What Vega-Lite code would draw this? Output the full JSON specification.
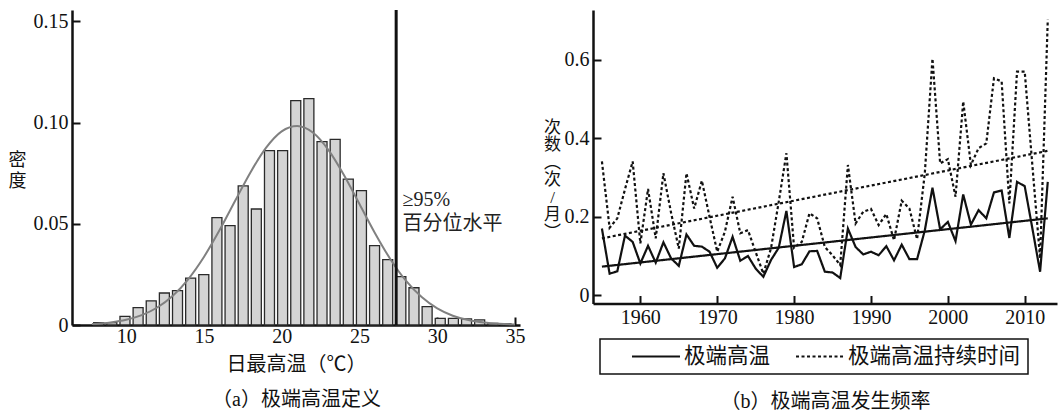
{
  "$schema": "https://vega.github.io/schema/vega-lite/v6.json",
  "padding": {"left": 8, "top": 8, "right": 4, "bottom": 0},
  "background": "white",
  "bounds": "flush",
  "spacing": 73,
  "config": {
    "font": "Liberation Serif, Noto Sans CJK SC",
    "view": {"stroke": null},
    "axis": {
      "domainColor": "#111", "domainWidth": 2.5, "tickColor": "#111", "tickWidth": 2, "tickSize": -8,
      "labelFont": "Liberation Serif, Noto Sans CJK SC", "labelFontSize": 20, "labelColor": "#111",
      "grid": false, "titleFont": "Liberation Serif, Noto Sans CJK SC", "titleFontSize": 20,
      "titleFontWeight": "normal", "titleColor": "#111", "labelPadding": 12
    },
    "legend": {"strokeWidth": 1.5}
  },
  "datasets": {
    "hist": [
      {"t": 8.235, "d": 0.0012}, {"t": 9.079, "d": 0.0012}, {"t": 9.924, "d": 0.0043}, {"t": 10.769, "d": 0.0086},
      {"t": 11.613, "d": 0.0119}, {"t": 12.458, "d": 0.0158}, {"t": 13.302, "d": 0.017}, {"t": 14.147, "d": 0.0232},
      {"t": 14.992, "d": 0.0249}, {"t": 15.836, "d": 0.053}, {"t": 16.681, "d": 0.0491}, {"t": 17.525, "d": 0.0687},
      {"t": 18.37, "d": 0.0573}, {"t": 19.215, "d": 0.0861}, {"t": 20.059, "d": 0.0861}, {"t": 20.904, "d": 0.1108},
      {"t": 21.748, "d": 0.1118}, {"t": 22.593, "d": 0.0906}, {"t": 23.438, "d": 0.0917}, {"t": 24.282, "d": 0.0721},
      {"t": 25.127, "d": 0.0664}, {"t": 25.971, "d": 0.0392}, {"t": 26.816, "d": 0.0323}, {"t": 27.661, "d": 0.0239},
      {"t": 28.505, "d": 0.0184}, {"t": 29.35, "d": 0.0091}, {"t": 30.194, "d": 0.0033}, {"t": 31.039, "d": 0.0033},
      {"t": 31.884, "d": 0.003}, {"t": 32.728, "d": 0.0025}, {"t": 33.573, "d": 0.0008}, {"t": 34.417, "d": 0.0006}
    ],
    "curve": [
      {"t": 7.8, "d": 0.00052}, {"t": 9, "d": 0.00129}, {"t": 10, "d": 0.00259}, {"t": 11, "d": 0.00488},
      {"t": 12, "d": 0.00865}, {"t": 13, "d": 0.01446}, {"t": 14, "d": 0.02272}, {"t": 15, "d": 0.03359},
      {"t": 16, "d": 0.04675}, {"t": 17, "d": 0.06124}, {"t": 18, "d": 0.0755}, {"t": 19, "d": 0.0876},
      {"t": 20, "d": 0.09565}, {"t": 21, "d": 0.0983}, {"t": 22, "d": 0.09507}, {"t": 23, "d": 0.08654},
      {"t": 24, "d": 0.07414}, {"t": 25, "d": 0.05978}, {"t": 26, "d": 0.04536}, {"t": 27, "d": 0.03239},
      {"t": 28, "d": 0.02177}, {"t": 29, "d": 0.01377}, {"t": 30, "d": 0.0082}, {"t": 31, "d": 0.00459},
      {"t": 32, "d": 0.00242}, {"t": 33, "d": 0.0012}, {"t": 34, "d": 0.00056}, {"t": 35, "d": 0.00025}
    ],
    "vline": [{"t": 27.36}],
    "annot": [
      {"t": 27.77, "d": 0.0617, "label": "≥95%"},
      {"t": 27.77, "d": 0.0499, "label": "百分位水平"}
    ],
    "series": [
      {"year": 1955, "value": 0.170, "series": "极端高温", "kind": "obs"},
      {"year": 1956, "value": 0.055, "series": "极端高温", "kind": "obs"},
      {"year": 1957, "value": 0.061, "series": "极端高温", "kind": "obs"},
      {"year": 1958, "value": 0.152, "series": "极端高温", "kind": "obs"},
      {"year": 1959, "value": 0.136, "series": "极端高温", "kind": "obs"},
      {"year": 1960, "value": 0.081, "series": "极端高温", "kind": "obs"},
      {"year": 1961, "value": 0.126, "series": "极端高温", "kind": "obs"},
      {"year": 1962, "value": 0.083, "series": "极端高温", "kind": "obs"},
      {"year": 1963, "value": 0.135, "series": "极端高温", "kind": "obs"},
      {"year": 1964, "value": 0.094, "series": "极端高温", "kind": "obs"},
      {"year": 1965, "value": 0.075, "series": "极端高温", "kind": "obs"},
      {"year": 1966, "value": 0.155, "series": "极端高温", "kind": "obs"},
      {"year": 1967, "value": 0.126, "series": "极端高温", "kind": "obs"},
      {"year": 1968, "value": 0.124, "series": "极端高温", "kind": "obs"},
      {"year": 1969, "value": 0.111, "series": "极端高温", "kind": "obs"},
      {"year": 1970, "value": 0.070, "series": "极端高温", "kind": "obs"},
      {"year": 1971, "value": 0.094, "series": "极端高温", "kind": "obs"},
      {"year": 1972, "value": 0.149, "series": "极端高温", "kind": "obs"},
      {"year": 1973, "value": 0.088, "series": "极端高温", "kind": "obs"},
      {"year": 1974, "value": 0.100, "series": "极端高温", "kind": "obs"},
      {"year": 1975, "value": 0.068, "series": "极端高温", "kind": "obs"},
      {"year": 1976, "value": 0.047, "series": "极端高温", "kind": "obs"},
      {"year": 1977, "value": 0.090, "series": "极端高温", "kind": "obs"},
      {"year": 1978, "value": 0.121, "series": "极端高温", "kind": "obs"},
      {"year": 1979, "value": 0.215, "series": "极端高温", "kind": "obs"},
      {"year": 1980, "value": 0.072, "series": "极端高温", "kind": "obs"},
      {"year": 1981, "value": 0.079, "series": "极端高温", "kind": "obs"},
      {"year": 1982, "value": 0.112, "series": "极端高温", "kind": "obs"},
      {"year": 1983, "value": 0.113, "series": "极端高温", "kind": "obs"},
      {"year": 1984, "value": 0.060, "series": "极端高温", "kind": "obs"},
      {"year": 1985, "value": 0.058, "series": "极端高温", "kind": "obs"},
      {"year": 1986, "value": 0.044, "series": "极端高温", "kind": "obs"},
      {"year": 1987, "value": 0.170, "series": "极端高温", "kind": "obs"},
      {"year": 1988, "value": 0.123, "series": "极端高温", "kind": "obs"},
      {"year": 1989, "value": 0.104, "series": "极端高温", "kind": "obs"},
      {"year": 1990, "value": 0.111, "series": "极端高温", "kind": "obs"},
      {"year": 1991, "value": 0.102, "series": "极端高温", "kind": "obs"},
      {"year": 1992, "value": 0.125, "series": "极端高温", "kind": "obs"},
      {"year": 1993, "value": 0.089, "series": "极端高温", "kind": "obs"},
      {"year": 1994, "value": 0.129, "series": "极端高温", "kind": "obs"},
      {"year": 1995, "value": 0.092, "series": "极端高温", "kind": "obs"},
      {"year": 1996, "value": 0.092, "series": "极端高温", "kind": "obs"},
      {"year": 1997, "value": 0.165, "series": "极端高温", "kind": "obs"},
      {"year": 1998, "value": 0.274, "series": "极端高温", "kind": "obs"},
      {"year": 1999, "value": 0.168, "series": "极端高温", "kind": "obs"},
      {"year": 2000, "value": 0.187, "series": "极端高温", "kind": "obs"},
      {"year": 2001, "value": 0.138, "series": "极端高温", "kind": "obs"},
      {"year": 2002, "value": 0.257, "series": "极端高温", "kind": "obs"},
      {"year": 2003, "value": 0.180, "series": "极端高温", "kind": "obs"},
      {"year": 2004, "value": 0.217, "series": "极端高温", "kind": "obs"},
      {"year": 2005, "value": 0.196, "series": "极端高温", "kind": "obs"},
      {"year": 2006, "value": 0.262, "series": "极端高温", "kind": "obs"},
      {"year": 2007, "value": 0.267, "series": "极端高温", "kind": "obs"},
      {"year": 2008, "value": 0.146, "series": "极端高温", "kind": "obs"},
      {"year": 2009, "value": 0.289, "series": "极端高温", "kind": "obs"},
      {"year": 2010, "value": 0.278, "series": "极端高温", "kind": "obs"},
      {"year": 2011, "value": 0.170, "series": "极端高温", "kind": "obs"},
      {"year": 2012, "value": 0.060, "series": "极端高温", "kind": "obs"},
      {"year": 2013, "value": 0.289, "series": "极端高温", "kind": "obs"},
      {"year": 1955, "value": 0.341, "series": "极端高温持续时间", "kind": "obs"},
      {"year": 1956, "value": 0.172, "series": "极端高温持续时间", "kind": "obs"},
      {"year": 1957, "value": 0.196, "series": "极端高温持续时间", "kind": "obs"},
      {"year": 1958, "value": 0.270, "series": "极端高温持续时间", "kind": "obs"},
      {"year": 1959, "value": 0.341, "series": "极端高温持续时间", "kind": "obs"},
      {"year": 1960, "value": 0.132, "series": "极端高温持续时间", "kind": "obs"},
      {"year": 1961, "value": 0.271, "series": "极端高温持续时间", "kind": "obs"},
      {"year": 1962, "value": 0.145, "series": "极端高温持续时间", "kind": "obs"},
      {"year": 1963, "value": 0.311, "series": "极端高温持续时间", "kind": "obs"},
      {"year": 1964, "value": 0.210, "series": "极端高温持续时间", "kind": "obs"},
      {"year": 1965, "value": 0.119, "series": "极端高温持续时间", "kind": "obs"},
      {"year": 1966, "value": 0.311, "series": "极端高温持续时间", "kind": "obs"},
      {"year": 1967, "value": 0.221, "series": "极端高温持续时间", "kind": "obs"},
      {"year": 1968, "value": 0.292, "series": "极端高温持续时间", "kind": "obs"},
      {"year": 1969, "value": 0.200, "series": "极端高温持续时间", "kind": "obs"},
      {"year": 1970, "value": 0.111, "series": "极端高温持续时间", "kind": "obs"},
      {"year": 1971, "value": 0.162, "series": "极端高温持续时间", "kind": "obs"},
      {"year": 1972, "value": 0.251, "series": "极端高温持续时间", "kind": "obs"},
      {"year": 1973, "value": 0.158, "series": "极端高温持续时间", "kind": "obs"},
      {"year": 1974, "value": 0.166, "series": "极端高温持续时间", "kind": "obs"},
      {"year": 1975, "value": 0.110, "series": "极端高温持续时间", "kind": "obs"},
      {"year": 1976, "value": 0.055, "series": "极端高温持续时间", "kind": "obs"},
      {"year": 1977, "value": 0.120, "series": "极端高温持续时间", "kind": "obs"},
      {"year": 1978, "value": 0.238, "series": "极端高温持续时间", "kind": "obs"},
      {"year": 1979, "value": 0.362, "series": "极端高温持续时间", "kind": "obs"},
      {"year": 1980, "value": 0.121, "series": "极端高温持续时间", "kind": "obs"},
      {"year": 1981, "value": 0.136, "series": "极端高温持续时间", "kind": "obs"},
      {"year": 1982, "value": 0.209, "series": "极端高温持续时间", "kind": "obs"},
      {"year": 1983, "value": 0.196, "series": "极端高温持续时间", "kind": "obs"},
      {"year": 1984, "value": 0.123, "series": "极端高温持续时间", "kind": "obs"},
      {"year": 1985, "value": 0.102, "series": "极端高温持续时间", "kind": "obs"},
      {"year": 1986, "value": 0.077, "series": "极端高温持续时间", "kind": "obs"},
      {"year": 1987, "value": 0.332, "series": "极端高温持续时间", "kind": "obs"},
      {"year": 1988, "value": 0.183, "series": "极端高温持续时间", "kind": "obs"},
      {"year": 1989, "value": 0.213, "series": "极端高温持续时间", "kind": "obs"},
      {"year": 1990, "value": 0.220, "series": "极端高温持续时间", "kind": "obs"},
      {"year": 1991, "value": 0.179, "series": "极端高温持续时间", "kind": "obs"},
      {"year": 1992, "value": 0.207, "series": "极端高温持续时间", "kind": "obs"},
      {"year": 1993, "value": 0.140, "series": "极端高温持续时间", "kind": "obs"},
      {"year": 1994, "value": 0.241, "series": "极端高温持续时间", "kind": "obs"},
      {"year": 1995, "value": 0.221, "series": "极端高温持续时间", "kind": "obs"},
      {"year": 1996, "value": 0.143, "series": "极端高温持续时间", "kind": "obs"},
      {"year": 1997, "value": 0.310, "series": "极端高温持续时间", "kind": "obs"},
      {"year": 1998, "value": 0.603, "series": "极端高温持续时间", "kind": "obs"},
      {"year": 1999, "value": 0.336, "series": "极端高温持续时间", "kind": "obs"},
      {"year": 2000, "value": 0.347, "series": "极端高温持续时间", "kind": "obs"},
      {"year": 2001, "value": 0.251, "series": "极端高温持续时间", "kind": "obs"},
      {"year": 2002, "value": 0.494, "series": "极端高温持续时间", "kind": "obs"},
      {"year": 2003, "value": 0.332, "series": "极端高温持续时间", "kind": "obs"},
      {"year": 2004, "value": 0.375, "series": "极端高温持续时间", "kind": "obs"},
      {"year": 2005, "value": 0.387, "series": "极端高温持续时间", "kind": "obs"},
      {"year": 2006, "value": 0.553, "series": "极端高温持续时间", "kind": "obs"},
      {"year": 2007, "value": 0.545, "series": "极端高温持续时间", "kind": "obs"},
      {"year": 2008, "value": 0.234, "series": "极端高温持续时间", "kind": "obs"},
      {"year": 2009, "value": 0.570, "series": "极端高温持续时间", "kind": "obs"},
      {"year": 2010, "value": 0.570, "series": "极端高温持续时间", "kind": "obs"},
      {"year": 2011, "value": 0.330, "series": "极端高温持续时间", "kind": "obs"},
      {"year": 2012, "value": 0.094, "series": "极端高温持续时间", "kind": "obs"},
      {"year": 2013, "value": 0.702, "series": "极端高温持续时间", "kind": "obs"},
      {"year": 1955, "value": 0.073, "series": "极端高温", "kind": "trend"},
      {"year": 2013, "value": 0.196, "series": "极端高温", "kind": "trend"},
      {"year": 1955, "value": 0.145, "series": "极端高温持续时间", "kind": "trend"},
      {"year": 2013, "value": 0.368, "series": "极端高温持续时间", "kind": "trend"}
    ]
  },
  "hconcat": [
    {
      "width": 448,
      "height": 315,
      "layer": [
        {
          "data": {"name": "hist"},
          "mark": {"type": "bar", "width": 10, "fill": "#d4d4d4", "stroke": "#2a2a2a", "strokeWidth": 1.3},
          "encoding": {
            "x": {
              "field": "t", "type": "quantitative",
              "scale": {"domain": [6.84, 35], "nice": false, "zero": false},
              "axis": {
                "values": [10, 15, 20, 25, 30, 35], "labelPadding": 9,
                "title": ["日最高温（℃）", "（a）极端高温定义"],
                "titleLineHeight": 35, "titleBaseline": "middle", "titleY": 39
              }
            },
            "y": {
              "field": "d", "type": "quantitative",
              "scale": {"domain": [0, 0.1556], "nice": false},
              "axis": {
                "values": [0, 0.05, 0.1, 0.15],
                "labelExpr": "datum.value == 0 ? '0' : format(datum.value, '.2f')",
                "title": ["密", "度"], "titleAngle": 0, "titleX": -55, "titleY": 150,
                "titleAlign": "center", "titleBaseline": "middle", "titleLineHeight": 21, "titleFontSize": 18
              }
            }
          }
        },
        {
          "data": {"name": "curve"},
          "mark": {"type": "line", "color": "#808080", "strokeWidth": 2, "interpolate": "monotone"},
          "encoding": {
            "x": {"field": "t", "type": "quantitative"},
            "y": {"field": "d", "type": "quantitative"}
          }
        },
        {
          "data": {"name": "vline"},
          "mark": {"type": "rule", "color": "#111", "strokeWidth": 3},
          "encoding": {"x": {"field": "t", "type": "quantitative"}}
        },
        {
          "data": {"name": "annot"},
          "mark": {"type": "text", "align": "left", "baseline": "middle", "fontSize": 20, "color": "#222", "font": "Liberation Serif, Noto Sans CJK SC"},
          "encoding": {
            "x": {"field": "t", "type": "quantitative"},
            "y": {"field": "d", "type": "quantitative"},
            "text": {"field": "label"}
          }
        }
      ]
    },
    {
      "width": 464,
      "height": 293.5,
      "data": {"name": "series"},
      "mark": {"type": "line", "color": "#111", "strokeWidth": 2.2},
      "encoding": {
        "x": {
          "field": "year", "type": "quantitative",
          "scale": {"domain": [1953.84, 2014.2], "nice": false, "zero": false},
          "axis": {
            "values": [1960, 1970, 1980, 1990, 2000, 2010], "format": "d",
            "title": "（b）极端高温发生频率", "titleBaseline": "middle", "titleY": 97.5
          }
        },
        "y": {
          "field": "value", "type": "quantitative",
          "scale": {"domain": [-0.021, 0.727], "nice": false},
          "axis": {
            "values": [0, 0.2, 0.4, 0.6],
            "labelExpr": "datum.value == 0 ? '0' : format(datum.value, '.1f')",
            "title": ["次", "数", "︵", "次", "/", "月", "︶"], "titleAngle": 0, "titleX": -41, "titleY": 117,
            "titleAlign": "center", "titleBaseline": "middle", "titleLineHeight": 17.5, "titleFontSize": 17
          }
        },
        "strokeDash": {
          "field": "series", "type": "nominal",
          "scale": {"domain": ["极端高温", "极端高温持续时间"], "range": [[1, 0], [3, 2.5]]},
          "legend": {
            "orient": "none", "legendX": 528, "legendY": 329, "direction": "horizontal", "title": null,
            "strokeColor": "#111", "fillColor": "white", "padding": 7,
            "symbolType": "stroke", "symbolSize": 2300, "symbolStrokeWidth": 2, "symbolStrokeColor": "#111",
            "labelFontSize": 21.5, "labelFont": "Noto Sans CJK SC", "labelColor": "#111", "labelOffset": 3,
            "columnPadding": -6, "symbolOffset": 24, "labelLimit": 400, "clipHeight": 21
          }
        },
        "detail": {"field": "kind", "type": "nominal"}
      }
    }
  ]
}
